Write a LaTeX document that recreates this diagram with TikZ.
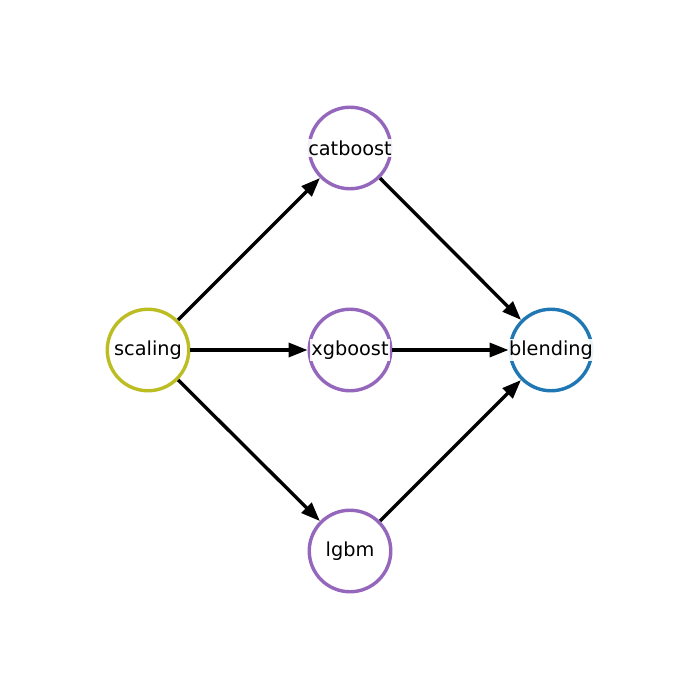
\documentclass[tikz,border=0pt]{standalone}
\usepackage{fontspec}
\setmainfont{DejaVu Sans}
\usetikzlibrary{arrows.meta}
\definecolor{olive}{HTML}{BCBD22}
\definecolor{mplpurple}{HTML}{9467BD}
\definecolor{mplblue}{HTML}{1F77B4}
\begin{document}
\begin{tikzpicture}[x=1pt,y=-1pt,
  stage/.style={circle,draw,line width=3.4pt,minimum size=81.5pt,inner sep=0pt,fill=white},
  lbl/.style={fill=white,fill opacity=0.9,text opacity=1,inner sep=1.5pt,font=\fontsize{19.3}{23}\selectfont},
  flow/.style={line width=3.4pt,-{Triangle[length=19pt,width=14pt]}}]
\useasboundingbox (0,0) rectangle (700,700);
\node[stage,draw=olive] (scaling) at (148,350) {};
\node[stage,draw=mplpurple] (catboost) at (350,148) {};
\node[stage,draw=mplpurple] (xgboost) at (350,350) {};
\node[stage,draw=mplpurple] (lgbm) at (350,551) {};
\node[stage,draw=mplblue] (blending) at (551,350) {};
\draw[flow] (scaling) -- (catboost);
\draw[flow] (scaling) -- (xgboost);
\draw[flow] (scaling) -- (lgbm);
\draw[flow] (catboost) -- (blending);
\draw[flow] (xgboost) -- (blending);
\draw[flow] (lgbm) -- (blending);
\node[lbl] (tscaling) at (148,350) {scaling};
\node[lbl] (tcatboost) at (350,148) {catboost};
\node[lbl] (txgboost) at (350,350) {xgboost};
\node[lbl] (tlgbm) at (350,551) {lgbm};
\node[lbl] (tblending) at (551,350) {blending};
\end{tikzpicture}
\end{document}
